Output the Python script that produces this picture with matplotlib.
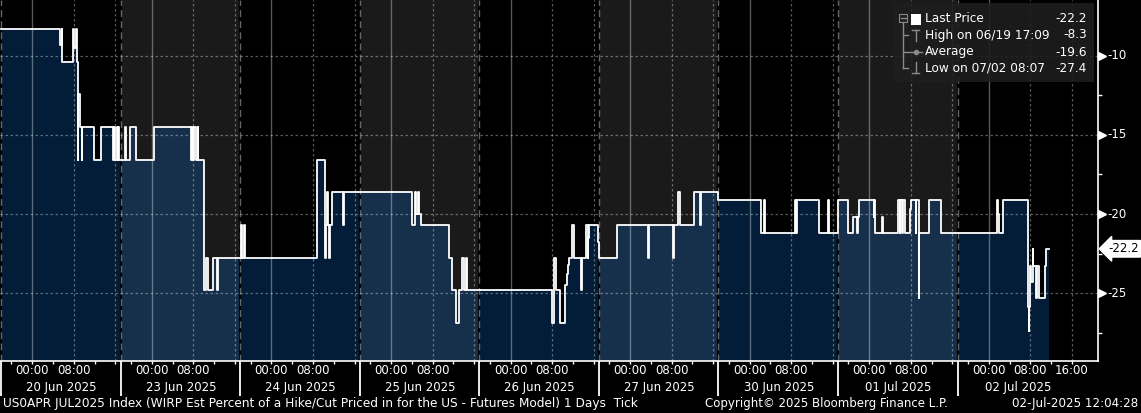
import numpy as np
import matplotlib
matplotlib.use('Agg')
import matplotlib.pyplot as plt
from matplotlib.transforms import blended_transform_factory
from matplotlib.patches import Rectangle
from matplotlib.lines import Line2D

plt.rcParams['axes.unicode_minus'] = False
plt.rcParams['font.family'] = ['DejaVu Sans']

W, H = 1141, 413
DAY_HOURS = 23  # session 18:00 -> 17:00, one block per trading day

day_labels = ['20 Jun 2025', '23 Jun 2025', '24 Jun 2025', '25 Jun 2025', '26 Jun 2025',
              '27 Jun 2025', '30 Jun 2025', '01 Jul 2025', '02 Jul 2025']

# step changes: hours on the session axis (0 = 19 Jun 18:00, 23 h per day)
t_hours = [
    0.0, 11.40, 11.63, 11.79, 13.90, 14.04, 14.33, 14.52, 14.81, 14.88, 15.25, 15.58, 15.65,
    17.94, 19.17, 21.48, 21.67, 21.87, 22.25, 22.44, 22.56, 22.63,
    23.85, 23.98, 24.75, 26.02, 29.48, 36.48, 36.67, 36.98, 37.17, 37.50, 37.79, 37.94,
    39.10, 39.42, 39.87, 40.83, 41.60, 41.69, 46.10, 46.29, 46.67, 46.83,
    60.71, 62.37, 62.46, 62.69, 62.98, 63.13, 63.23, 63.71, 65.83, 65.90,
    79.10, 79.67, 79.90, 80.19, 80.48, 80.83, 86.21, 86.79, 87.44, 88.02, 88.71, 89.10,
    89.52, 89.62,
    105.96, 106.40, 106.79, 107.44, 108.52, 108.79, 108.98, 109.17, 109.87, 110.25, 111.60,
    111.69, 112.56, 112.85, 112.94, 113.17, 114.75, 115.0,
    118.46, 124.48, 124.58, 129.29, 129.38, 130.25, 130.63, 133.33, 134.48, 134.58,
    138.0, 146.21, 146.67, 146.98, 152.75, 152.94, 153.13, 157.37, 159.10, 159.19,
    161.0, 162.94, 163.90, 164.67, 164.77, 165.06, 167.83, 167.98, 168.13, 169.48, 169.58,
    172.56, 172.83, 172.94, 173.21, 173.46, 173.90, 174.75, 174.90, 175.00, 175.96, 176.06,
    176.48, 176.54, 178.52, 180.83,
    191.54, 191.73, 191.98, 192.75, 197.56, 197.65, 197.75, 197.88, 198.13, 198.46, 198.58,
    199.04, 199.23, 199.56, 200.71, 201.02,
]
values = [
    -8.3, -9.3, -8.3, -10.4, -8.3, -9.5, -8.3, -10.4, -16.6, -12.4, -14.5, -16.6, -14.5,
    -16.6, -14.5, -16.6, -14.5, -16.6, -14.5, -16.6, -14.5, -16.6,
    -14.5, -16.6, -14.5, -16.6, -14.5, -16.6, -14.5, -16.6, -14.5, -16.6, -14.5, -16.6,
    -24.8, -22.8, -24.8, -22.8, -24.8, -22.8, -20.7, -22.8, -20.7, -22.8,
    -16.6, -22.8, -20.7, -18.6, -20.7, -22.8, -20.7, -18.6, -20.7, -18.6,
    -20.7, -18.6, -20.0, -18.6, -20.0, -20.7, -22.8, -24.8, -26.9, -24.8, -22.8, -24.8,
    -22.8, -24.8,
    -26.9, -22.8, -24.8, -26.9, -24.5, -23.8, -23.2, -22.8, -20.7, -22.8, -24.8,
    -22.8, -20.7, -22.8, -21.5, -20.7, -21.8, -22.8,
    -20.7, -22.8, -20.7, -22.8, -20.7, -18.6, -20.7, -18.6, -20.7, -18.6,
    -19.1, -21.2, -19.1, -21.2, -19.1, -21.2, -19.1, -21.2, -19.1, -21.2,
    -19.1, -21.2, -20.2, -21.2, -20.2, -19.1, -20.2, -19.1, -21.2, -20.2, -21.2,
    -19.1, -21.2, -19.1, -21.2, -19.1, -21.2, -20.7, -19.7, -19.1, -21.2, -19.1,
    -25.3, -21.2, -19.1, -21.2,
    -19.1, -20.0, -21.2, -19.1, -25.9, -27.4, -25.9, -23.3, -24.3, -22.2, -23.3,
    -25.3, -23.3, -25.3, -23.3, -22.2,
]
t_end = 201.5

y_ticks = [-10, -15, -20, -25]
last_price = -22.2
legend_names = ['Last Price', 'High on 06/19 17:09', 'Average', 'Low on 07/02 08:07']
legend_values = ['-22.2', '-8.3', '-19.6', '-27.4']

footer_left = 'US0APR JUL2025 Index (WIRP Est Percent of a Hike/Cut Priced in for the US - Futures Model) 1 Days  Tick'
footer_mid = 'Copyright\u00a9 2025 Bloomberg Finance L.P.'
footer_right = '02-Jul-2025 12:04:28'

YMIN, YMAX = -29.3, -6.46
XMIN, XMAX = -0.2, 211.0
fill_colors = ['#031d38', '#16304c']
band_color = '#1a1a1a'


def fx(x):
    return x / W


def fy(y):
    return 1 - y / H


fig = plt.figure(figsize=(W / 100, H / 100), dpi=100, facecolor='black')
ax = fig.add_axes([0, fy(361), fx(1098), 361 / H])
ax.set_facecolor('black')
ax.set_xlim(XMIN, XMAX)
ax.set_ylim(YMIN, YMAX)

n_days = len(day_labels)

# grey bands on every other day
for d in range(n_days):
    if d % 2 == 1:
        ax.axvspan(d * DAY_HOURS, (d + 1) * DAY_HOURS, color=band_color, lw=0, zorder=0)

t = np.array(t_hours)
v = np.array(values)


def value_at(x):
    i = np.searchsorted(t, x, side='right') - 1
    return v[max(i, 0)]


# area under the price, coloured per day
for d in range(n_days):
    a = d * DAY_HOURS
    b = min((d + 1) * DAY_HOURS, t_end)
    if a >= t_end:
        break
    inside = (t > a) & (t < b)
    xs = np.concatenate([[a], t[inside], [b]])
    ys = np.concatenate([[value_at(a)], v[inside], [value_at(b - 1e-6)]])
    ax.fill_between(xs, ys, YMIN, step='post', color=fill_colors[d % 2], lw=0, zorder=1)

# grid
for y in y_ticks:
    ax.axhline(y, color='white', alpha=0.35, lw=0.9, ls=(0, (2, 2)), zorder=2)
for d in range(n_days):
    base = d * DAY_HOURS
    ax.axvline(base, color='black', lw=1.6, zorder=1.5)
    ax.axvline(base, color='white', alpha=0.4, lw=1, ls=(0, (5, 3)), zorder=2)
    ax.axvline(base + 6, color='white', alpha=0.35, lw=1, zorder=2)
    ax.axvline(base + 14, color='white', alpha=0.35, lw=0.9, ls=(0, (2, 2)), zorder=2)
    ax.axvline(base + 22, color='white', alpha=0.35, lw=0.9, ls=(0, (2, 2)), zorder=2)

# price line
ax.step(list(t) + [t_end], list(v) + [v[-1]], where='post', color='white', lw=1.3, zorder=3)

# axes frame
for side in ['top', 'left']:
    ax.spines[side].set_visible(False)
for side in ['bottom', 'right']:
    ax.spines[side].set_color('white')
    ax.spines[side].set_linewidth(1.2)

ax.set_xticks([d * DAY_HOURS for d in range(n_days)])
ax.set_xticklabels([])
ax.set_xticks([d * DAY_HOURS + h for d in range(n_days) for h in (2, 6, 10, 14, 18, 22)], minor=True)
ax.tick_params(axis='x', which='major', length=25, width=1.3, color='white', direction='out')
ax.tick_params(axis='x', which='minor', length=2.5, width=1, color='white', direction='out')

ax.yaxis.set_ticks_position('right')
ax.set_yticks(y_ticks)
ax.set_yticklabels([])
ax.set_yticks([-12.5, -17.5, -22.5, -27.5], minor=True)
ax.tick_params(axis='y', which='major', length=0)
ax.tick_params(axis='y', which='minor', length=3, width=1, color='white', direction='out')

# bottom time / date labels
tr_x = blended_transform_factory(ax.transData, fig.transFigure)
for d in range(n_days):
    base = d * DAY_HOURS
    times = ['00:00', '08:00'] + (['16:00'] if d == n_days - 1 else [])
    for k, lab in enumerate(times):
        fig.text(base + 6 + 8 * k, fy(370), lab, transform=tr_x, ha='center', va='center',
                 color='white', fontsize=8.5)
    fig.text(base + 11.6, fy(387), day_labels[d], transform=tr_x, ha='center', va='center',
             color='white', fontsize=8.5)

# right axis labels with arrow markers
tr_y = blended_transform_factory(fig.transFigure, ax.transData)
for y in y_ticks:
    ax.plot([fx(1102)], [y], marker='>', ms=5.5, color='white', transform=tr_y, clip_on=False, zorder=5)
    fig.text(fx(1107), y, f'{y:d}', transform=tr_y, ha='left', va='center', color='white', fontsize=8.5)

fig.text(fx(1108), last_price, f'{last_price:.1f}', transform=tr_y, ha='left', va='center',
         color='black', fontsize=8.5,
         bbox=dict(boxstyle='larrow,pad=0.15', fc='white', ec='white'))

# legend box
fig.patches.append(Rectangle((fx(893), fy(82)), fx(1094) - fx(893), fy(3) - fy(82),
                             transform=fig.transFigure, facecolor='#1e1e1e', alpha=0.88,
                             edgecolor='none', zorder=10))
row_y = [19, 35, 52, 68]
for name, val, ry in zip(legend_names, legend_values, row_y):
    fig.text(fx(925), fy(ry), name, ha='left', va='center', color='white', fontsize=8.7, zorder=11)
    fig.text(fx(1087), fy(ry), val, ha='right', va='center', color='white', fontsize=8.7, zorder=11)

grey = '#8a8a8a'


def seg(x0, y0, x1, y1, color=grey, lw=1):
    fig.add_artist(Line2D([fx(x0), fx(x1)], [fy(y0), fy(y1)], transform=fig.transFigure,
                          color=color, lw=lw, zorder=11))


# tree connector
fig.patches.append(Rectangle((fx(899), fy(22)), fx(907) - fx(899), fy(14) - fy(22),
                             transform=fig.transFigure, facecolor='none', edgecolor=grey,
                             lw=0.8, zorder=11))
seg(900.5, 18, 905.5, 18)
seg(903, 22, 903, 68)
for ry in row_y[1:]:
    seg(903, ry, 908, ry)
fig.patches.append(Rectangle((fx(911), fy(25)), fx(921) - fx(911), fy(14) - fy(25),
                             transform=fig.transFigure, facecolor='white', edgecolor='none', zorder=11))
# high marker
seg(912, 30, 919, 30)
seg(915.5, 30, 915.5, 41)
# average marker
seg(909, 52, 922, 52)
fig.add_artist(Line2D([fx(915.5)], [fy(52)], transform=fig.transFigure, marker='o', ms=3,
                      color=grey, zorder=11))
# low marker
seg(915.5, 62, 915.5, 73)
seg(912, 73, 919, 73)

# footer
fig.text(fx(3), fy(403), footer_left, ha='left', va='center', color='white', fontsize=8.7)
fig.text(fx(705), fy(403), footer_mid, ha='left', va='center', color='white', fontsize=8.5)
fig.text(fx(1138), fy(403), footer_right, ha='right', va='center', color='white', fontsize=8.6)

fig.savefig('out.png', dpi=100, facecolor='black')
plt.close(fig)
